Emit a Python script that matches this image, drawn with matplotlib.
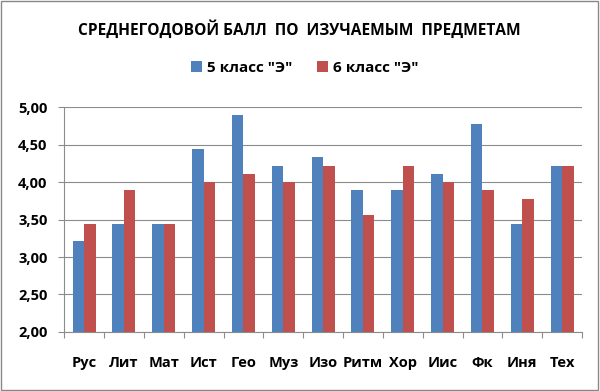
import matplotlib as m
m.use("Agg")
import matplotlib.pyplot as plt
import numpy as np
from matplotlib.patches import Rectangle

# Average yearly marks per subject, two classes
subjects = ["Рус", "Лит", "Мат", "Ист", "Гео", "Муз", "Изо", "Ритм", "Хор", "Иис", "Фк", "Иня", "Тех"]
class5 = [3.22, 3.44, 3.44, 4.44, 4.89, 4.22, 4.33, 3.89, 3.89, 4.11, 4.78, 3.44, 4.22]
class6 = [3.44, 3.89, 3.44, 4.00, 4.11, 4.00, 4.22, 3.56, 4.22, 4.00, 3.89, 3.78, 4.22]
series_names = ['5 класс "Э"', '6 класс "Э"']
yticks = [2.0, 2.5, 3.0, 3.5, 4.0, 4.5, 5.0]

plt.rcParams['font.family'] = ['Open Sans', 'DejaVu Sans']

fig = plt.figure(figsize=(6, 3.91), dpi=100)
ax = fig.add_axes([0.107, 0.151, 0.863, 0.575])

x = np.arange(len(subjects))
w = 0.29
ax.bar(x - w / 2, [v - 2 for v in class5], w, bottom=2, color="#4F81BD", label=series_names[0], zorder=3)
ax.bar(x + w / 2, [v - 2 for v in class6], w, bottom=2, color="#C0504D", label=series_names[1], zorder=3)

ax.set_ylim(2, 5)
ax.set_xlim(-0.5, len(subjects) - 0.5)
ax.set_yticks(yticks)
ax.set_yticklabels([("%.2f" % t).replace(".", ",") for t in yticks], fontsize=10.5, fontweight="bold")
ax.yaxis.grid(True, color="#8c8c8c", linewidth=0.8, zorder=0)
ax.tick_params(axis="y", length=4, color="#8c8c8c", pad=8)

# category boundaries as ticks, labels centred between them
ax.set_xticks(np.arange(-0.5, len(subjects), 1))
ax.set_xticklabels([])
ax.set_xticks(x, minor=True)
ax.set_xticklabels(subjects, minor=True, fontsize=10.5, fontweight="bold")
ax.tick_params(axis="x", which="major", length=4, color="#8c8c8c", direction="out")
ax.tick_params(axis="x", which="minor", length=0, pad=17)

for s in ["top", "right"]:
    ax.spines[s].set_visible(False)
for s in ["left", "bottom"]:
    ax.spines[s].set_color("#8c8c8c")

fig.text(0.499, 0.925, "СРЕДНЕГОДОВОЙ БАЛЛ  ПО  ИЗУЧАЕМЫМ  ПРЕДМЕТАМ", ha="center", va="center",
         fontsize=11.2, fontweight="bold")
fig.legend(loc="center", bbox_to_anchor=(0.508, 0.826), ncol=2, frameon=False,
           prop={"weight": "bold", "size": 11}, handlelength=0.7, handleheight=0.7,
           handletextpad=0.35, columnspacing=1.6)

fig.patches.append(Rectangle((0.002, 0.003), 0.995, 0.994, transform=fig.transFigure,
                             fill=False, edgecolor="#888888", linewidth=1))

plt.savefig("out.png")
